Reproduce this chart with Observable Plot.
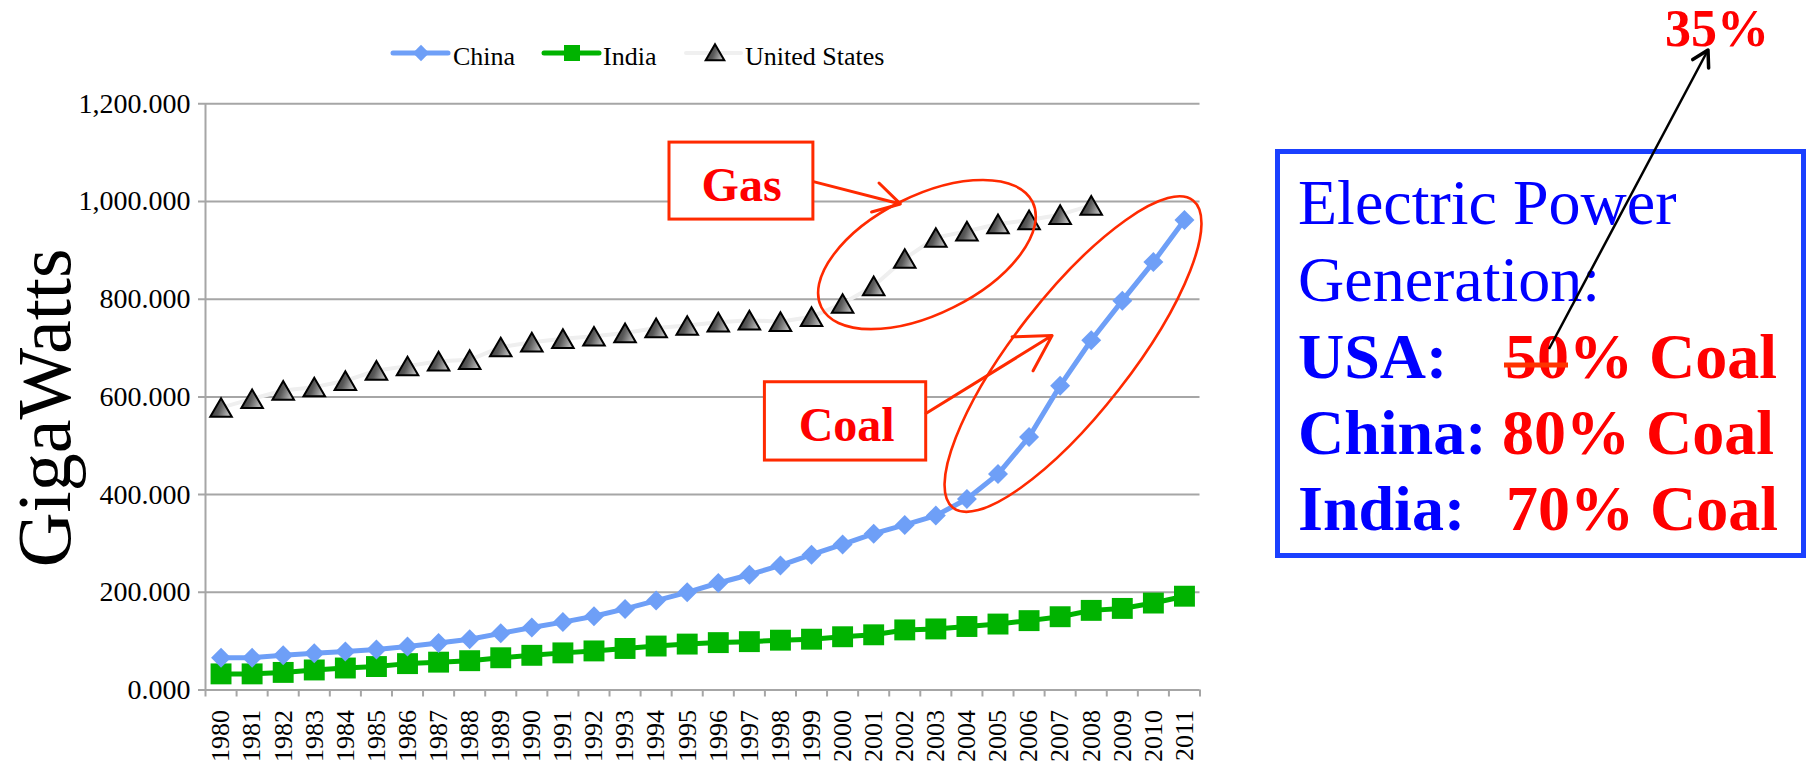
<!DOCTYPE html>
<html><head><meta charset="utf-8">
<script src="https://cdn.jsdelivr.net/npm/d3@7"></script>
<script src="https://cdn.jsdelivr.net/npm/@observablehq/plot@0.6"></script>
<style>
html,body{margin:0;padding:0;background:#fff;}
#wrap{position:relative;width:1811px;height:766px;overflow:hidden;background:#fff;}
#wrap svg{position:absolute;left:0;top:0;}
</style></head><body><div id="wrap"></div>
<script>
// ---------- data ----------
const years = [1980,1981,1982,1983,1984,1985,1986,1987,1988,1989,1990,1991,1992,1993,1994,1995,
               1996,1997,1998,1999,2000,2001,2002,2003,2004,2005,2006,2007,2008,2009,2010,2011];
const china = [66,66,71,75,79,83,89,96,104,116,128,139,151,166,183,200,
               219,236,255,277,298,320,338,357,391,442,518,623,716,797,876,962];
const india = [33,33,36,41,45,48,54,57,60,66,71,76,80,85,90,94,
               97,99,102,104,109,113,123,125,130,135,142,150,163,167,178,192];
const us    = [578,596,613,620,633,654,663,673,676,702,712,719,724,731,741,746,
               753,757,754,764,791,827,883,926,939,954,962,973,992,null,null,null];
const seriesNames = ["China","India","United States"];
const yTicks = [0,200,400,600,800,1000,1200];

// annotations (data coordinates: year, GW)
const gasBox   = {x1:1994.43, x2:1999.06, y1:963, y2:1120.6};
const gasLabel = {x:1996.75, y:1033.5, text:"Gas"};
const gasArrow = {x1:1999.06, y1:1040.7, x2:2001.86, y2:995};
const gasEllipse = {x:2002.73, y:890.3, rx:118, ry:59, rot:-26.5};
const coalBox   = {x1:1997.50, x2:2002.69, y1:469.7, y2:630.0};
const coalLabel = {x:2000.13, y:542.2, text:"Coal"};
const coalArrow = {x1:2002.69, y1:566.5, x2:2006.74, y2:725.5};
const coalEllipse = {x:2007.43, y:686.6, rx:195, ry:58, rot:-52};

// ---------- styles ----------
const W = 1811, H = 766;
const FONT = "Liberation Serif, Times New Roman, serif";
const GRID = "#a6a6a6";
const C_CHINA = "#6e9ff7", C_INDIA = "#00b300", C_US_LINE = "#efefef";
const RED = "#ff2a00";
const SVGNS = "http://www.w3.org/2000/svg";

const table = years.map((year, i) => ({year, china: china[i], india: india[i], us: us[i]}));
const boundaries = [...years.map(y => y - 0.5), years[years.length - 1] + 0.5];

function defsMark() {
  const defs = document.createElementNS(SVGNS, "defs");
  defs.innerHTML = `<linearGradient id="triGrad" x1="0" y1="0" x2="1" y2="0.3">
      <stop offset="0" stop-color="#262626"/><stop offset="0.55" stop-color="#5a5a5a"/>
      <stop offset="1" stop-color="#b4b4b4"/></linearGradient>`;
  return defs;
}
function ellipseMark(e) {
  return (index, scales) => {
    const cx = scales.x(e.x), cy = scales.y(e.y);
    const el = document.createElementNS(SVGNS, "ellipse");
    el.setAttribute("cx", cx); el.setAttribute("cy", cy);
    el.setAttribute("rx", e.rx); el.setAttribute("ry", e.ry);
    el.setAttribute("transform", `rotate(${e.rot} ${cx} ${cy})`);
    el.setAttribute("fill", "none"); el.setAttribute("stroke", RED); el.setAttribute("stroke-width", 2.6);
    return el;
  };
}

const chart = Plot.plot({
  width: W, height: H,
  marginLeft: 205, marginRight: 611.5, marginTop: 103.3, marginBottom: 76.5,
  style: {fontFamily: FONT, background: "transparent", overflow: "visible"},
  x: {type: "linear", domain: [1979.5, 2011.5]},
  y: {domain: [0, 1200]},
  marks: [
    defsMark,
    Plot.gridY(yTicks, {stroke: GRID, strokeOpacity: 1, strokeWidth: 2, insetLeft: -7}),
    Plot.ruleX([1979.5], {stroke: GRID, strokeWidth: 2}),
    Plot.axisY({ticks: yTicks, tickSize: 0, tickPadding: 15, tickFormat: d3.format(",.3f"), fontSize: 28, label: null}),
    Plot.axisX({ticks: boundaries, tickSize: 7, tickFormat: () => "", stroke: GRID, strokeWidth: 2, label: null}),
    Plot.axisX({ticks: years, tickSize: 0, tickPadding: 20, tickRotate: -90, tickFormat: d => String(d), fontSize: 26, label: null}),
    Plot.text(["GigaWatts"], {frameAnchor: "left", textAnchor: "middle", dx: -160, dy: 11, rotate: -90, fontSize: 76}),
    Plot.line(table, {x: "year", y: "us", stroke: C_US_LINE, strokeWidth: 4}),
    Plot.dot(table, {x: "year", y: "us", symbol: "triangle", r: 8, dy: 3, fill: "url(#triGrad)", stroke: "black", strokeWidth: 2}),
    Plot.line(table, {x: "year", y: "india", stroke: C_INDIA, strokeWidth: 5}),
    Plot.dot(table, {x: "year", y: "india", symbol: "square", r: 11.8, fill: C_INDIA, stroke: "none"}),
    Plot.line(table, {x: "year", y: "china", stroke: C_CHINA, strokeWidth: 5}),
    Plot.dot(table, {x: "year", y: "china", symbol: "diamond2", r: 9, fill: C_CHINA, stroke: "none"}),
    // annotations
    Plot.rect([gasBox], {x1: "x1", x2: "x2", y1: "y1", y2: "y2", fill: "white", stroke: RED, strokeWidth: 3}),
    Plot.text([gasLabel], {x: "x", y: "y", text: "text", fill: "#ff0000", fontSize: 48, fontWeight: "bold"}),
    Plot.arrow([gasArrow], {x1: "x1", y1: "y1", x2: "x2", y2: "y2", stroke: RED, strokeWidth: 3, headLength: 20}),
    ellipseMark(gasEllipse),
    Plot.rect([coalBox], {x1: "x1", x2: "x2", y1: "y1", y2: "y2", fill: "white", stroke: RED, strokeWidth: 3}),
    Plot.text([coalLabel], {x: "x", y: "y", text: "text", fill: "#ff0000", fontSize: 48, fontWeight: "bold"}),
    ellipseMark(coalEllipse),
    Plot.arrow([coalArrow], {x1: "x1", y1: "y1", x2: "x2", y2: "y2", stroke: RED, strokeWidth: 3, headLength: 20})
  ]
});
const wrap = document.getElementById("wrap");
wrap.appendChild(chart);

// ---------- overlay: legend + right-hand callout ----------
const ov = d3.select(wrap).append("svg").attr("width", W).attr("height", H)
  .style("font-family", FONT);
ov.append("defs").html(`<linearGradient id="triGradL" x1="0" y1="0" x2="1" y2="0.3">
  <stop offset="0" stop-color="#262626"/><stop offset="0.55" stop-color="#5a5a5a"/>
  <stop offset="1" stop-color="#b4b4b4"/></linearGradient>`);

const lg = ov.append("g");
const LY = 53, LB = 65;
// China
lg.append("line").attr("x1", 393).attr("x2", 448).attr("y1", LY).attr("y2", LY)
  .attr("stroke", C_CHINA).attr("stroke-width", 5).attr("stroke-linecap", "round");
lg.append("path").attr("d", d3.symbol(d3.symbolDiamond2, 170)()).attr("transform", `translate(421,${LY})`).attr("fill", C_CHINA);
lg.append("text").attr("x", 453).attr("y", LB).attr("font-size", 26).text(seriesNames[0]);
// India
lg.append("line").attr("x1", 544).attr("x2", 599).attr("y1", LY).attr("y2", LY)
  .attr("stroke", C_INDIA).attr("stroke-width", 5).attr("stroke-linecap", "round");
lg.append("path").attr("d", d3.symbol(d3.symbolSquare, 256)()).attr("transform", `translate(572,${LY})`).attr("fill", C_INDIA);
lg.append("text").attr("x", 603).attr("y", LB).attr("font-size", 26).text(seriesNames[1]);
// United States
lg.append("line").attr("x1", 686).attr("x2", 741).attr("y1", LY).attr("y2", LY)
  .attr("stroke", "#f0f0f0").attr("stroke-width", 4).attr("stroke-linecap", "round");
lg.append("path").attr("d", d3.symbol(d3.symbolTriangle, 150)()).attr("transform", `translate(715,${LY + 2})`)
  .attr("fill", "url(#triGradL)").attr("stroke", "black").attr("stroke-width", 2);
lg.append("text").attr("x", 745).attr("y", LB).attr("font-size", 26).text(seriesNames[2]);

// Right callout box
const rp = ov.append("g");
rp.append("rect").attr("x", 1277.5).attr("y", 151.5).attr("width", 526).attr("height", 404)
  .attr("fill", "white").attr("stroke", "#1a40ff").attr("stroke-width", 5);
const BLUE = "#0000ff", TRED = "#ff0000";
const tx = 1298;
rp.append("text").attr("x", tx).attr("y", 224).attr("font-size", 64).attr("fill", BLUE).text("Electric Power");
rp.append("text").attr("x", tx).attr("y", 301).attr("font-size", 64).attr("fill", BLUE).text("Generation:");
const rows = [
  {lab: "USA:", val: "50% Coal", y: 378, vx: 1505},
  {lab: "China:", val: "80% Coal", y: 454, vx: 1502},
  {lab: "India:", val: "70% Coal", y: 530, vx: 1506}
];
rows.forEach(r => {
  rp.append("text").attr("x", tx).attr("y", r.y).attr("font-size", 64).attr("font-weight", "bold").attr("fill", BLUE).text(r.lab);
  rp.append("text").attr("x", r.vx).attr("y", r.y).attr("font-size", 64).attr("font-weight", "bold").attr("fill", TRED).text(r.val);
});
// strike-through on "50"
rp.append("line").attr("x1", 1504).attr("x2", 1568).attr("y1", 365).attr("y2", 365)
  .attr("stroke", "#ff3300").attr("stroke-width", 5);
// "35%"
ov.append("text").attr("x", 1665).attr("y", 46).attr("font-size", 52).attr("font-weight", "bold").attr("fill", TRED).text("35%");
// black arrow from 50 to 35%
(function () {
  const x1 = 1549, y1 = 349, x2 = 1708, y2 = 50, L = 18, A = Math.PI / 6;
  const ang = Math.atan2(y1 - y2, x1 - x2);
  const p1 = [x2 + L * Math.cos(ang + A), y2 + L * Math.sin(ang + A)];
  const p2 = [x2 + L * Math.cos(ang - A), y2 + L * Math.sin(ang - A)];
  ov.append("line").attr("x1", x1).attr("y1", y1).attr("x2", x2).attr("y2", y2)
    .attr("stroke", "black").attr("stroke-width", 2.5);
  ov.append("path").attr("d", `M${p1[0]},${p1[1]}L${x2},${y2}L${p2[0]},${p2[1]}`)
    .attr("fill", "none").attr("stroke", "black").attr("stroke-width", 3.5)
    .attr("stroke-linecap", "round").attr("stroke-linejoin", "round");
})();
</script>
</body></html>
